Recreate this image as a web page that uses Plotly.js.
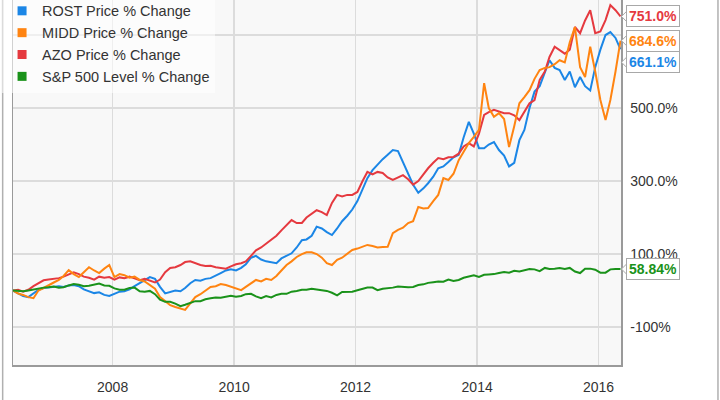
<!DOCTYPE html>
<html>
<head>
<meta charset="utf-8">
<script src="https://cdn.plot.ly/plotly-3.0.1.min.js"></script>
<style>
  html, body { margin: 0; padding: 0; background: #fff; }
  #graph { width: 720px; height: 400px; }
</style>
</head>
<body>
<div id="graph"></div>
<script>
// monthly points, May 2006 .. May 2016 (values in % change)
const first_year = 2006;
const first_month = 5;
const n_points = 121;

const rost = [
  0, -8, -15, -18, -8, 2, 7, 8,
  10, 12, 10, 14, 15, 12, 3, -2, -7, -5, -12, -15,
  -8, -3, -2, 3, 12, 20, 30, 37, 32, 10, -8, -5,
  0, -2, 7, 20, 29, 27, 32, 34, 42, 48, 55, 58,
  55, 62, 72, 90, 95, 85, 80, 78, 75, 88, 95, 102,
  118, 138, 140, 150, 175, 170, 160, 152, 170, 190, 205, 222,
  245, 280, 308, 330, 345, 360, 372, 385, 382, 350, 322, 290,
  268, 280, 294, 312, 335, 340, 352, 365, 372, 420, 462, 430,
  390, 390, 400, 407, 385, 370, 340, 350, 412, 440, 500, 545,
  560, 600, 631, 610, 604, 577, 600, 557, 585, 560, 548, 612,
  660, 700, 708, 692, 661.1,
];

const midd = [
  0, -8, -12, -18, -21, 0, 7, 15,
  22, 29, 40, 56, 45, 37, 50, 64, 55, 48, 60, 70,
  37, 45, 42, 35, 38, 29, 25, 15, 5, -18, -30, -40,
  -45, -50, -53, -35, -18, -10, 0, 10, 12, 18, 15, 10,
  5, 1, 10, 20, 29, 25, 32, 29, 40, 55, 70, 80,
  92, 100, 105, 105, 100, 90, 75, 70, 84, 90, 100, 111,
  115, 120, 125, 122, 118, 119, 120, 157, 166, 172, 185, 190,
  229, 225, 226, 245, 262, 308, 303, 320, 357, 380, 404, 421,
  440, 568, 500, 476, 486, 470, 393, 450, 513, 530, 549, 580,
  604, 610, 612, 620, 631, 625, 680, 722, 612, 585, 668, 600,
  522, 467, 522, 600, 684.6,
];

const azo = [
  0, 2, -3, 2, 12, 20, 28, 30,
  32, 34, 38, 45, 50, 45, 38, 35, 30, 38, 35, 37,
  30, 36, 34, 38, 32, 28, 32, 26, 22, 30, 50, 62,
  64, 70, 78, 80, 74, 70, 67, 68, 64, 62, 60, 66,
  72, 75, 80, 95, 110, 118, 128, 140, 150, 165, 180, 193,
  185, 185, 200, 210, 220, 215, 207, 240, 262, 258, 262, 262,
  270, 300, 325, 318, 325, 322, 310, 303, 310, 316, 305, 290,
  300, 320, 335, 350, 363, 360, 365, 366, 375, 395, 404, 395,
  430, 481, 489, 495, 490, 486, 486, 480, 467, 490, 513, 522,
  577, 600, 640, 668, 659, 649, 660, 722, 705, 740, 768, 705,
  710, 741, 782, 768, 751.0,
];

const sp500 = [
  0, -2, -2, 0, 3, 6, 8, 9,
  11, 8, 9, 14, 18, 16, 12, 13, 17, 19, 14, 13,
  6, 2, 2, 7, 8, -2, -3, -1, -10, -25, -31, -31,
  -36, -43, -39, -33, -29, -29, -24, -21, -19, -20, -16, -14,
  -17, -15, -10, -9, -16, -21, -15, -19, -12, -9, -9, -3,
  -1, 2, 2, 5, 3, 2, -1, -6, -13, -4, -4, -3,
  1, 5, 8, 8, 1, 5, 6, 8, 11, 9, 9, 10,
  15, 17, 21, 23, 25, 24, 30, 26, 29, 35, 39, 42,
  37, 43, 44, 45, 48, 51, 49, 54, 52, 55, 59, 58,
  53, 62, 59, 60, 62, 59, 62, 52, 48, 60, 60, 57,
  49, 49, 58, 59, 58.84,
];

const names = ["ROST Price % Change", "MIDD Price % Change", "AZO Price % Change", "S&P 500 Level % Change"];
const colors = ["#1b86e6", "#ff8411", "#e5393f", "#1a921a"];
const end_labels = ["661.1%", "684.6%", "751.0%", "58.84%"];

const tick_vals = [-100, 100, 300, 500, 700];
const tick_text = ["-100%", "100.0%", "300.0%", "500.0%", ""];

const dates = [];
for (let i = 0; i < n_points; i++) {
  const m = first_month - 1 + i;
  const y = first_year + Math.floor(m / 12);
  const mm = String((m % 12) + 1).padStart(2, "0");
  dates.push(`${y}-${mm}-12`);
}

const series = [rost, midd, azo, sp500];
const draw_order = [0, 2, 1, 3];

const traces = draw_order.map((k) => ({
  x: dates,
  y: series[k],
  type: "scatter",
  mode: "lines",
  line: { color: colors[k], width: 2 },
  showlegend: false,
  hoverinfo: "skip",
}));

// legend entries with square swatches
names.forEach((name, k) => {
  traces.push({
    x: [null],
    y: [null],
    type: "scatter",
    mode: "markers",
    name: name,
    marker: { symbol: "square", size: 9, color: colors[k] },
    showlegend: true,
  });
});

const label_shift = [-13, 0, 0, 0];
const font_family = "Liberation Sans, Arial, sans-serif";

const annotations = series.map((s, k) => ({
  xref: "paper",
  yref: "y",
  x: 1,
  y: s[s.length - 1],
  xanchor: "left",
  yanchor: "middle",
  xshift: 5,
  yshift: label_shift[k],
  text: `<b>${end_labels[k]}</b>`,
  showarrow: false,
  font: { size: 14, color: colors[k], family: font_family },
  bgcolor: "#ffffff",
  bordercolor: "#a8a8a8",
  borderwidth: 1,
  borderpad: 2,
}));

// little pointers on the left of each end label
const pointers = series.map((s, k) => {
  const c = label_shift[k];
  return {
    type: "path",
    xref: "paper",
    yref: "y",
    xsizemode: "pixel",
    ysizemode: "pixel",
    xanchor: 1,
    yanchor: s[s.length - 1],
    path: `M 6.5 ${c - 6} L 0.5 ${c} L 6.5 ${c + 6} Z`,
    fillcolor: "#ffffff",
    line: { color: "#a8a8a8", width: 1 },
    layer: "above",
  };
});

const layout = {
  width: 720,
  height: 400,
  margin: { l: 13, r: 99, t: 0, b: 35, pad: 0, autoexpand: false },
  paper_bgcolor: "#ffffff",
  plot_bgcolor: "#f8f8f8",
  font: { family: font_family, size: 14, color: "#333" },
  showlegend: true,
  legend: {
    x: -0.018,
    y: 1.014,
    xanchor: "left",
    yanchor: "top",
    bgcolor: "rgba(255,255,255,0.55)",
    borderwidth: 0,
    font: { size: 14.5, color: "#333" },
    itemwidth: 30,
  },
  xaxis: {
    type: "date",
    range: ["2006-05-12", "2016-05-15"],
    tick0: "2008-01-01",
    dtick: "M24",
    tickformat: "%Y",
    showgrid: true,
    gridcolor: "#dcdcdc",
    gridwidth: 1.5,
    showline: true,
    linecolor: "#9a9a9a",
    linewidth: 1.5,
    ticks: "",
    ticklabelstandoff: 9,
    zeroline: false,
    fixedrange: true,
  },
  yaxis: {
    side: "right",
    range: [-204, 796],
    tickvals: tick_vals,
    ticktext: tick_text,
    showgrid: true,
    gridcolor: "#dcdcdc",
    gridwidth: 1.5,
    showline: true,
    mirror: true,
    linecolor: "#9a9a9a",
    linewidth: 1.5,
    ticks: "",
    ticklabelstandoff: 5,
    zeroline: false,
    fixedrange: true,
  },
  annotations: annotations,
  shapes: [
    { type: "line", xref: "paper", yref: "paper", x0: -0.017, x1: -0.017, y0: -0.1, y1: 1.01,
      line: { color: "#b0b0b0", width: 1.5 } },
    { type: "line", xref: "paper", yref: "paper", x0: 1.1595, x1: 1.1595, y0: -0.1, y1: 1.01,
      line: { color: "#b0b0b0", width: 1.5 } },
  ].concat(pointers),
};

Plotly.newPlot("graph", traces, layout, { displayModeBar: false, staticPlot: true });
</script>
</body>
</html>
